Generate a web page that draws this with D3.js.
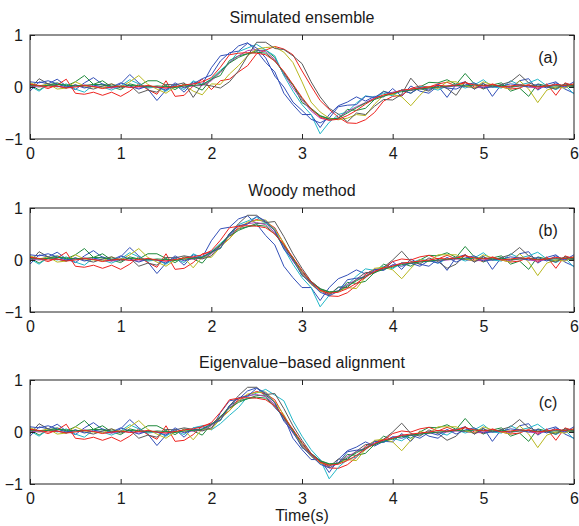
<!DOCTYPE html>
<html><head><meta charset="utf-8">
<script src="https://cdn.jsdelivr.net/npm/d3@7"></script>
<style>
html,body{margin:0;padding:0;background:#fff;}
svg text{font-family:"Liberation Sans",Arial,Helvetica,sans-serif;fill:#1a1a1a;}
</style></head>
<body><svg id="chart" width="579" height="526"></svg>
<script>
const time = [0,0.1,0.2,0.3,0.4,0.5,0.6,0.7,0.8,0.9,1,1.1,1.2,1.3,1.4,1.5,1.6,1.7,1.8,1.9,2,2.1,2.2,2.3,2.4,2.5,2.6,2.7,2.8,2.9,3,3.1,3.2,3.3,3.4,3.5,3.6,3.7,3.8,3.9,4,4.1,4.2,4.3,4.4,4.5,4.6,4.7,4.8,4.9,5,5.1,5.2,5.3,5.4,5.5,5.6,5.7,5.8,5.9,6];
const xTicks = [0,1,2,3,4,5,6];
const yTicks = [-1,0,1];
const titles = ["Simulated ensemble","Woody method","Eigenvalue\u2212based alignment"];
const tags = ["(a)","(b)","(c)"];
const colors = ["#3350b8","#1f8a3c","#ee2420","#22b8c8","#b040b0","#b8b820","#5a5a5a","#3350b8","#1f8a3c","#ee2420"];

// trace 1 (blue)
const blueA = [-0.08,0.10,0.06,0.15,0.02,-0.05,0.08,0.18,0.05,-0.02,0.06,0.24,0.08,-0.04,-0.26,-0.06,0.05,-0.10,0.10,0.05,0.37,0.60,0.63,0.79,0.85,0.69,0.47,0.29,-0.12,-0.34,-0.53,-0.53,-0.78,-0.53,-0.36,-0.29,-0.19,-0.27,-0.18,-0.19,-0.03,-0.18,0.02,-0.08,-0.12,0.02,-0.20,0.05,0.10,-0.04,0.08,-0.18,0.05,-0.02,0.12,0.16,-0.06,0.05,0.10,-0.04,-0.12];
const blueC = [-0.08,0.10,0.06,0.15,0.02,-0.05,0.08,0.18,0.05,-0.02,0.06,0.24,0.08,-0.04,-0.26,-0.06,0.05,-0.10,0.08,0.10,0.05,0.37,0.60,0.63,0.79,0.85,0.69,0.47,0.29,-0.12,-0.34,-0.53,-0.53,-0.78,-0.53,-0.36,-0.29,-0.19,-0.27,-0.18,-0.19,-0.03,-0.18,0.02,-0.08,-0.12,0.02,0.05,0.10,-0.04,0.08,-0.18,0.05,-0.02,0.12,0.16,-0.06,0.05,0.10,-0.04,-0.12];
// trace 2 (green)
const green = [0.05,-0.06,0.04,0.08,0.02,0.10,0.22,0.05,0.12,0.00,-0.05,0.06,0.02,0.12,0.12,0.03,-0.05,0.06,0.02,-0.06,0.15,0.22,0.51,0.60,0.64,0.70,0.71,0.57,0.23,0.05,-0.30,-0.41,-0.55,-0.61,-0.61,-0.43,-0.45,-0.41,-0.24,-0.08,-0.15,-0.06,-0.12,0.00,0.09,0.08,0.14,0.05,0.26,0.06,-0.04,0.04,0.08,-0.08,-0.02,-0.18,0.06,0.02,-0.02,0.06,0.04];
// trace 3 (red)
const redA = [0.06,0.02,-0.03,0.04,0.15,-0.12,-0.14,-0.10,-0.16,-0.10,-0.18,-0.08,0.06,-0.05,-0.14,0.12,-0.18,-0.16,0.02,0.15,-0.05,0.12,0.15,0.29,0.41,0.64,0.71,0.78,0.73,0.62,0.31,0.02,-0.26,-0.43,-0.58,-0.69,-0.70,-0.63,-0.49,-0.27,-0.18,-0.16,-0.03,0.02,0.00,0.06,0.09,0.02,0.10,0.00,-0.02,0.06,0.00,-0.04,-0.02,0.05,-0.04,0.06,-0.16,0.08,0.02];
const redB = [0.06,0.02,-0.03,0.04,0.15,-0.12,-0.14,-0.10,-0.16,-0.10,-0.18,-0.08,0.06,-0.05,-0.14,0.12,-0.18,-0.16,-0.05,0.12,0.15,0.29,0.41,0.64,0.71,0.78,0.73,0.62,0.31,0.02,-0.26,-0.43,-0.58,-0.69,-0.70,-0.63,-0.49,-0.27,-0.18,-0.16,-0.03,0.02,0.00,0.06,0.09,0.02,0.09,0.02,0.10,0.00,-0.02,0.06,0.00,-0.04,-0.02,0.05,-0.04,0.06,-0.16,0.08,0.02];
// trace 4 (cyan)
const cyanA = [0.02,-0.08,0.05,0.00,0.06,-0.04,-0.10,0.04,0.00,-0.06,0.02,0.14,0.06,-0.02,0.00,-0.08,0.03,-0.05,0.12,0.04,0.16,0.32,0.47,0.68,0.75,0.82,0.71,0.60,0.22,-0.08,-0.34,-0.53,-0.90,-0.68,-0.53,-0.48,-0.31,-0.17,-0.20,-0.12,-0.17,-0.05,-0.06,0.01,-0.01,-0.06,0.02,0.05,-0.02,0.04,0.14,0.00,-0.02,0.12,0.04,0.08,0.15,0.02,-0.05,0.04,-0.14];
const cyanC = [0.02,-0.08,0.05,0.00,0.06,-0.04,-0.10,0.04,0.00,-0.06,0.02,0.14,0.06,-0.02,0.00,-0.08,0.03,-0.05,0.08,0.12,0.04,0.16,0.32,0.47,0.68,0.75,0.82,0.71,0.60,0.22,-0.08,-0.34,-0.53,-0.90,-0.68,-0.53,-0.48,-0.31,-0.17,-0.20,-0.12,-0.17,-0.05,-0.06,0.01,-0.01,-0.06,0.05,-0.02,0.04,0.14,0.00,-0.02,0.12,0.04,0.08,0.15,0.02,-0.05,0.04,-0.14];
// trace 5 (magenta)
const magenta = [0.02,0.00,0.03,0.01,-0.01,0.02,0.04,0.01,0.00,-0.02,0.01,0.00,-0.02,0.01,0.00,-0.02,0.01,0.00,0.02,0.03,0.12,0.28,0.47,0.60,0.70,0.72,0.68,0.53,0.26,-0.02,-0.25,-0.46,-0.60,-0.64,-0.59,-0.47,-0.38,-0.30,-0.21,-0.17,-0.10,-0.07,-0.07,-0.03,-0.02,-0.01,0.00,0.02,0.01,-0.02,0.00,0.03,0.01,-0.01,0.02,0.00,-0.02,0.01,0.03,0.00,0.02];
// trace 6 (yellow)
const yellowA = [0.08,0.02,0.06,-0.04,-0.02,0.10,0.02,0.00,-0.02,0.06,0.00,0.10,0.22,0.05,-0.04,-0.12,0.00,0.04,-0.08,-0.15,0.06,0.05,0.25,0.41,0.60,0.73,0.76,0.77,0.67,0.47,0.10,-0.29,-0.48,-0.60,-0.63,-0.60,-0.53,-0.55,-0.33,-0.16,-0.14,-0.19,-0.36,-0.16,0.01,-0.03,0.10,0.10,0.02,-0.02,0.10,0.04,0.00,-0.04,0.12,-0.04,-0.30,-0.06,0.00,-0.02,0.06];
const yellowB = [0.08,0.02,0.06,-0.04,-0.02,0.10,0.02,0.00,-0.02,0.06,0.00,0.10,0.22,0.05,-0.04,-0.12,0.00,0.04,-0.15,0.06,0.05,0.25,0.41,0.60,0.73,0.76,0.77,0.58,0.33,0.02,-0.27,-0.47,-0.60,-0.63,-0.60,-0.53,-0.55,-0.33,-0.16,-0.14,-0.19,-0.36,-0.16,0.01,-0.03,0.10,0.10,0.10,0.02,-0.02,0.10,0.04,0.00,-0.04,0.12,-0.04,-0.30,-0.06,0.00,-0.02,0.06];
// trace 7 (grey)
const greyA = [-0.04,0.16,0.06,0.02,-0.02,0.04,0.00,-0.04,0.02,0.06,-0.02,0.04,-0.12,-0.06,-0.10,0.05,0.04,0.08,-0.20,0.05,0.02,-0.02,0.10,0.31,0.60,0.86,0.86,0.74,0.72,0.60,0.45,0.10,-0.19,-0.41,-0.52,-0.67,-0.50,-0.53,-0.37,-0.24,-0.25,-0.14,0.17,-0.03,-0.08,0.04,-0.03,-0.16,0.10,-0.04,0.06,0.00,0.05,0.10,0.24,0.08,0.02,0.00,-0.04,0.06,0.02];
const greyB = [-0.04,0.16,0.06,0.02,-0.02,0.04,0.00,-0.04,0.02,0.06,-0.02,0.04,-0.12,-0.06,-0.10,0.05,0.04,0.08,0.05,0.02,0.08,0.28,0.50,0.70,0.86,0.86,0.72,0.74,0.45,0.12,-0.16,-0.41,-0.55,-0.67,-0.52,-0.53,-0.37,-0.24,-0.25,-0.14,0.00,0.17,-0.03,-0.08,0.04,-0.03,-0.16,-0.08,0.10,-0.04,0.06,0.00,0.05,0.10,0.24,0.08,0.02,0.00,-0.04,0.06,0.02];
// trace 8 (blue, second)
const blue2A = [0.10,0.08,0.12,0.06,0.00,0.04,-0.02,0.02,0.06,0.00,0.08,0.02,-0.04,0.02,0.00,-0.06,0.08,-0.02,0.06,0.16,0.23,0.50,0.66,0.69,0.84,0.75,0.56,0.21,0.00,-0.29,-0.45,-0.62,-0.69,-0.60,-0.38,-0.35,-0.34,-0.18,-0.20,-0.09,-0.12,-0.06,-0.12,-0.01,-0.06,0.05,-0.02,-0.04,0.04,0.08,-0.02,0.00,0.02,0.06,0.04,0.00,0.05,-0.02,0.08,0.00,0.10];
const blue2B = [0.10,0.08,0.12,0.06,0.00,0.04,-0.02,0.02,0.06,0.00,0.08,0.02,-0.04,0.02,0.00,-0.06,0.08,-0.02,0.04,0.06,0.16,0.23,0.50,0.66,0.69,0.84,0.75,0.56,0.21,0.00,-0.29,-0.45,-0.62,-0.69,-0.60,-0.38,-0.35,-0.34,-0.18,-0.20,-0.09,-0.12,-0.06,-0.12,-0.01,-0.06,0.05,-0.04,0.04,0.08,-0.02,0.00,0.02,0.06,0.04,0.00,0.05,-0.02,0.08,0.00,0.10];
// trace 9 (green, smooth)
const green2 = [0.04,0.02,0.03,0.05,0.04,0.02,0.03,0.05,0.04,0.02,0.01,0.03,0.02,0.00,0.02,0.01,-0.01,0.02,0.03,0.05,0.14,0.30,0.46,0.57,0.64,0.67,0.65,0.50,0.28,0.03,-0.22,-0.43,-0.56,-0.62,-0.60,-0.50,-0.40,-0.31,-0.24,-0.18,-0.12,-0.09,-0.06,-0.04,-0.02,0.00,0.01,0.03,0.02,0.04,0.03,0.02,0.03,0.01,0.02,0.03,0.01,0.02,0.02,0.03,0.01];
// trace 10 (red, smooth)
const red2 = [0.05,0.03,0.00,0.02,-0.02,0.00,0.03,0.01,-0.03,0.00,0.02,-0.01,0.01,0.03,0.00,-0.02,0.01,0.04,0.06,0.10,0.18,0.38,0.62,0.65,0.66,0.65,0.62,0.50,0.30,0.05,-0.20,-0.42,-0.58,-0.64,-0.62,-0.55,-0.45,-0.33,-0.22,-0.15,-0.12,-0.06,-0.04,-0.02,0.00,0.03,0.02,0.04,0.08,0.04,0.02,0.05,0.00,0.02,0.04,0.03,0.00,0.02,0.05,0.03,0.06];

const panels = [
  [blueA, green, redA, cyanA, magenta, yellowA, greyA, blue2A, green2, red2],
  [blueA, green, redB, cyanA, magenta, yellowB, greyB, blue2B, green2, red2],
  [blueC, green, redB, cyanC, magenta, yellowB, greyB, blue2B, green2, red2]
];

const svg = d3.select("#chart");
svg.append("rect").attr("width",579).attr("height",526).attr("fill","#fff");
const left = 30, right = 574;
const tops = [35, 208, 380];
const ph = 104;
const fs = "16px";
const x = d3.scaleLinear().domain([0,6]).range([left,right]);

panels.forEach((series, p) => {
  const y = d3.scaleLinear().domain([-1,1]).range([tops[p]+ph, tops[p]]);
  const g = svg.append("g");
  const clipId = "clip"+p;
  svg.append("clipPath").attr("id",clipId).append("rect")
    .attr("x",left).attr("y",tops[p]).attr("width",right-left).attr("height",ph);
  const line = d3.line().x((d,i)=>x(time[i])).y(d=>y(d));
  const lg = g.append("g").attr("clip-path","url(#"+clipId+")");
  series.forEach((s,k) => {
    lg.append("path").attr("d", line(s)).attr("fill","none")
      .attr("stroke", colors[k]).attr("stroke-width",1).attr("stroke-linejoin","miter");
  });
  const ax = d3.axisBottom(x).tickValues(xTicks).tickFormat(d3.format("d")).tickSizeInner(-5).tickSizeOuter(0).tickPadding(9);
  const axT = d3.axisTop(x).tickValues(xTicks).tickFormat("").tickSizeInner(-5).tickSizeOuter(0);
  const ay = d3.axisLeft(y).tickValues(yTicks).tickFormat(d3.format("d")).tickSizeInner(-5).tickSizeOuter(0).tickPadding(7);
  const ayR = d3.axisRight(y).tickValues(yTicks).tickFormat("").tickSizeInner(-5).tickSizeOuter(0);
  const styleAxis = sel => {
    sel.select(".domain").remove();
    sel.selectAll("line").attr("stroke","#222");
    sel.selectAll("text").style("font-size",fs).attr("fill","#1a1a1a");
  };
  g.append("g").attr("transform",`translate(0,${tops[p]+ph})`).call(ax).call(styleAxis);
  g.append("g").attr("transform",`translate(0,${tops[p]})`).call(axT).call(styleAxis);
  g.append("g").attr("transform",`translate(${left},0)`).call(ay).call(styleAxis);
  g.append("g").attr("transform",`translate(${right},0)`).call(ayR).call(styleAxis);
  g.append("rect").attr("x",left).attr("y",tops[p]).attr("width",right-left).attr("height",ph)
    .attr("fill","none").attr("stroke","#222").attr("stroke-width",1);
  g.append("text").attr("x",(left+right)/2).attr("y",tops[p]-12).attr("text-anchor","middle")
    .style("font-size",fs).text(titles[p]);
  g.append("text").attr("x",548).attr("y",tops[p]+28).attr("text-anchor","middle")
    .style("font-size",fs).text(tags[p]);
});
svg.append("text").attr("x",(left+right)/2).attr("y",521).attr("text-anchor","middle")
  .style("font-size",fs).text("Time(s)");
</script>
</body></html>
